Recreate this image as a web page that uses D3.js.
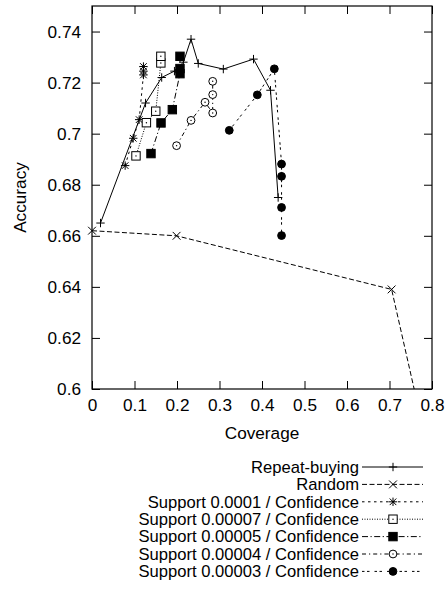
<!DOCTYPE html>
<html lang="en">
<head>
  <meta charset="UTF-8">
  <title>Accuracy vs Coverage</title>
  <script src="https://d3js.org/d3.v7.min.js"></script>
  <style>
    body {
      margin: 0;
      background: white;
    }
    svg text {
      font-family: "Liberation Sans", Arial, sans-serif;
      font-size: 17.2px;
      fill: black;
    }
    .legend text {
      font-size: 16.6px;
    }
    .line {
      fill: none;
      stroke: black;
      stroke-width: 1px;
    }
  </style>
</head>
<body>
  <svg id="chart" width="446" height="592"></svg>
  <script>
    // values: [coverage, accuracy]
    const repeatBuying = [[0.02, 0.665], [0.126, 0.712], [0.164, 0.722], [0.194, 0.7245], [0.215, 0.728],
      [0.233, 0.737], [0.25, 0.7275], [0.309, 0.7253], [0.38, 0.7292], [0.42, 0.717], [0.438, 0.675]];
    const random = [[0, 0.662], [0.199, 0.66], [0.705, 0.639], [1.0, 0.422]];
    const sup00010 = [[0.078, 0.6875], [0.097, 0.6982], [0.111, 0.7055], [0.121, 0.723], [0.121, 0.7245], [0.121, 0.7263]];
    const sup00007 = [[0.1035, 0.6913], [0.128, 0.7043], [0.15, 0.7088], [0.162, 0.7277], [0.162, 0.7303]];
    const sup00005 = [[0.1388, 0.6922], [0.1624, 0.7042], [0.189, 0.7094], [0.207, 0.7235], [0.207, 0.7255], [0.207, 0.7303]];
    const sup00004 = [[0.199, 0.6953], [0.233, 0.7052], [0.266, 0.7123], [0.284, 0.7081], [0.284, 0.7153], [0.284, 0.7205]];
    const sup00003 = [[0.323, 0.7013], [0.389, 0.7152], [0.429, 0.7254], [0.446, 0.6881], [0.446, 0.6833], [0.446, 0.6711], [0.446, 0.6601]];

    const xTicks = [0, 0.1, 0.2, 0.3, 0.4, 0.5, 0.6, 0.7, 0.8];
    const yTicks = [0.6, 0.62, 0.64, 0.66, 0.68, 0.7, 0.72, 0.74];

    const seriesNames = [
      "Repeat-buying", "Random",
      "Support 0.0001 / Confidence", "Support 0.00007 / Confidence",
      "Support 0.00005 / Confidence", "Support 0.00004 / Confidence",
      "Support 0.00003 / Confidence"
    ];

    const series = [
      { name: seriesNames[0], values: repeatBuying, symbol: "plus",   dash: null },
      { name: seriesNames[1], values: random,       symbol: "cross",  dash: "5,2.5" },
      { name: seriesNames[2], values: sup00010,     symbol: "star",   dash: "2.5,3.5" },
      { name: seriesNames[3], values: sup00007,     symbol: "box",    dash: "1,1.5" },
      { name: seriesNames[4], values: sup00005,     symbol: "fbox",   dash: "6,2.5,1.2,2.5" },
      { name: seriesNames[5], values: sup00004,     symbol: "circle", dash: "4,3,1.2,3" },
      { name: seriesNames[6], values: sup00003,     symbol: "fcircle", dash: "2.5,2.5,2.5,5" }
    ];

    const margin = { top: 6, right: 14, bottom: 203, left: 92 },
          width = 446 - margin.left - margin.right,
          height = 592 - margin.top - margin.bottom;

    const svg = d3.select("#chart")
      .append("g")
      .attr("transform", `translate(${margin.left},${margin.top})`);

    const xScale = d3.scaleLinear().domain([0, 0.8]).range([0, width]);
    const yScale = d3.scaleLinear().domain([0.6, 0.75]).range([height, 0]);

    // axes with inward ticks, mirrored on top and right
    const fmt = d => String(+d.toFixed(2));
    const xAxis = svg.append("g")
      .attr("transform", `translate(0,${height})`)
      .call(d3.axisBottom(xScale).tickValues(xTicks).tickSize(-8).tickPadding(10).tickFormat(fmt));
    const yAxis = svg.append("g")
      .call(d3.axisLeft(yScale).tickValues(yTicks).tickSize(-8).tickPadding(11).tickFormat(fmt));
    const xTop = svg.append("g")
      .call(d3.axisTop(xScale).tickValues(xTicks).tickSize(-8).tickFormat(""));
    const yRight = svg.append("g")
      .attr("transform", `translate(${width},0)`)
      .call(d3.axisRight(yScale).tickValues(yTicks).tickSize(-8).tickFormat(""));

    [xAxis, yAxis, xTop, yRight].forEach(a => {
      a.select(".domain").remove();
      a.selectAll("line").attr("stroke", "black").attr("stroke-width", 1);
      a.selectAll("text").attr("font-size", null).attr("font-family", null);
    });

    svg.append("rect")
      .attr("width", width)
      .attr("height", height)
      .attr("fill", "none")
      .attr("stroke", "black")
      .attr("stroke-width", 1.2);

    svg.append("text")
      .attr("x", width / 2)
      .attr("y", height + 50)
      .attr("text-anchor", "middle")
      .text("Coverage");

    svg.append("text")
      .attr("transform", `translate(${-margin.left + 26},${height / 2}) rotate(-90)`)
      .attr("text-anchor", "middle")
      .text("Accuracy");

    // clip lines to the plot frame
    svg.append("clipPath")
      .attr("id", "clip")
      .append("rect")
      .attr("width", width)
      .attr("height", height);

    const line = d3.line()
      .x(d => xScale(d[0]))
      .y(d => yScale(d[1]));

    function drawSymbol(g, type) {
      const s = 4.2;
      if (type === "plus" || type === "star") {
        g.append("path").attr("d", `M${-s},0H${s}M0,${-s}V${s}`)
          .attr("stroke", "black").attr("fill", "none");
      }
      if (type === "cross" || type === "star") {
        const c = type === "star" ? 3.3 : 3.9;
        g.append("path").attr("d", `M${-c},${-c}L${c},${c}M${-c},${c}L${c},${-c}`)
          .attr("stroke", "black").attr("fill", "none");
      }
      if (type === "box" || type === "fbox") {
        g.append("rect").attr("x", -4.2).attr("y", -4.2).attr("width", 8.4).attr("height", 8.4)
          .attr("fill", type === "fbox" ? "black" : "white").attr("stroke", "black");
      }
      if (type === "circle" || type === "fcircle") {
        g.append("circle").attr("r", 3.9)
          .attr("fill", type === "fcircle" ? "black" : "white").attr("stroke", "black");
      }
      if (type === "box" || type === "circle") {
        g.append("circle").attr("r", 0.7).attr("fill", "black");
      }
    }

    const plot = svg.append("g");

    series.forEach(s => {
      plot.append("path")
        .datum(s.values)
        .attr("class", "line")
        .attr("clip-path", "url(#clip)")
        .attr("stroke-dasharray", s.dash)
        .attr("d", line);
    });

    series.forEach(s => {
      s.values
        .filter(d => d[0] >= 0 && d[0] <= 0.8 && d[1] >= 0.6 && d[1] <= 0.75)
        .forEach(d => {
          const g = plot.append("g")
            .attr("transform", `translate(${xScale(d[0])},${yScale(d[1])})`);
          drawSymbol(g, s.symbol);
        });
    });

    // legend below the plot
    const legend = svg.append("g")
      .attr("class", "legend")
      .attr("transform", `translate(0, ${height + 78})`);

    series.forEach((s, i) => {
      const row = legend.append("g")
        .attr("transform", `translate(0, ${i * 17.4})`);

      row.append("text")
        .attr("x", 267)
        .attr("y", 0)
        .attr("dy", "0.35em")
        .attr("text-anchor", "end")
        .text(s.name);

      row.append("line")
        .attr("class", "line")
        .attr("x1", 270)
        .attr("x2", 331)
        .attr("stroke-dasharray", s.dash);

      const g = row.append("g").attr("transform", "translate(301,0)");
      drawSymbol(g, s.symbol);
    });
  </script>
</body>
</html>
